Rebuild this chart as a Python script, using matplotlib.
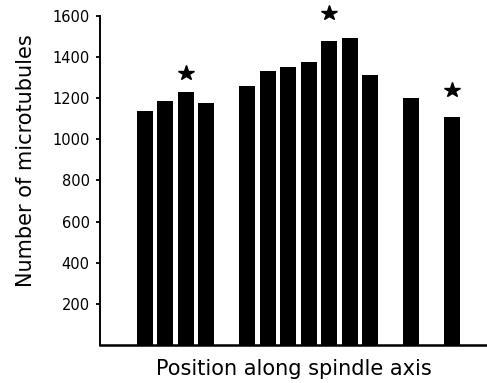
import matplotlib
matplotlib.use("Agg")
import matplotlib.pyplot as plt

# Data
positions = [1, 2, 3, 4, 6, 7, 8, 9, 10, 11, 12, 14, 16]
counts = [1138, 1185, 1231, 1177, 1260, 1332, 1351, 1374, 1476, 1493, 1314, 1202, 1110]
star_positions = [3, 10, 16]
star_heights = [1323, 1611, 1240]
yticks = [200, 400, 600, 800, 1000, 1200, 1400, 1600]

plt.rcParams['font.family'] = ['DejaVu Sans']

fig = plt.figure(figsize=(4.87, 3.83), dpi=100)
ax = fig.add_axes([100/487, 38/383, 387/487, (345-15.7)/383])

ax.bar(positions, counts, width=0.78, color='black', edgecolor='none')
ax.plot(star_positions, star_heights, linestyle='none', marker='*',
        markersize=11.5, color='black', clip_on=False)

ax.set_ylim(0, 1600)
ax.set_xlim(-1.18, 17.7)
ax.set_yticks(yticks)
ax.set_yticklabels([str(t) for t in yticks], fontsize=10.5)
ax.set_xticks([])

for s in ['top', 'right']:
    ax.spines[s].set_visible(False)
ax.spines['left'].set_linewidth(1.4)
ax.spines['bottom'].set_linewidth(1.8)
ax.tick_params(axis='y', direction='out', length=3, width=1.3, pad=4.5)

ax.set_ylabel('Number of microtubules', fontsize=15)
ax.yaxis.set_label_coords(-0.165, 0.56)
ax.set_xlabel('Position along spindle axis', fontsize=15, labelpad=10)

fig.savefig('out.png', dpi=100, facecolor='white')
